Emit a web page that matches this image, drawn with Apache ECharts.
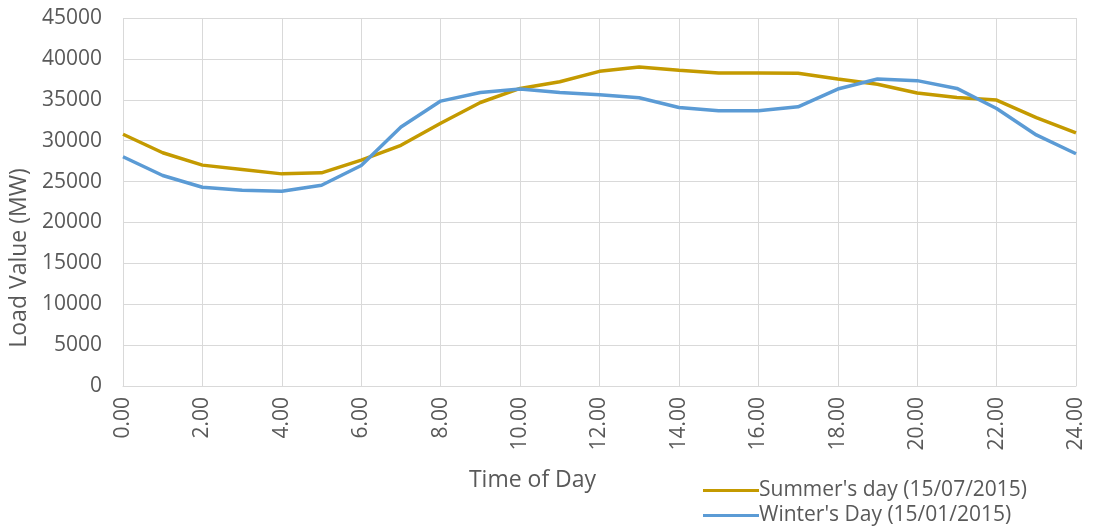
<!DOCTYPE html>
<html>
<head>
<meta charset="utf-8">
<script src="https://cdn.jsdelivr.net/npm/echarts@6/dist/echarts.min.js"></script>
<style>
  html, body { margin: 0; padding: 0; background: #fff; }
  #chart { width: 1093px; height: 529px; }
</style>
</head>
<body>
<div id="chart"></div>
<script>
// hour of day, 0..24
const hours = [0, 1, 2, 3, 4, 5, 6, 7, 8, 9, 10, 11, 12, 13, 14, 15, 16, 17, 18, 19, 20, 21, 22, 23, 24];
const summerLoad = [30780, 28520, 27010, 26480, 25940, 26070, 27620, 29430, 32130, 34670, 36390, 37210, 38480,
  39020, 38600, 38280, 38280, 38240, 37540, 36890, 35820, 35290, 34960, 32830, 30940];
const winterLoad = [28030, 25740, 24300, 23930, 23810, 24550, 26970, 31680, 34840, 35900, 36310, 35900, 35610,
  35250, 34060, 33650, 33650, 34140, 36310, 37540, 37340, 36390, 33930, 30700, 28400];
const seriesNames = ["Summer's day (15/07/2015)", "Winter's Day (15/01/2015)"];

const font = "Open Sans";
const textColor = "#595959";
const gridColor = "#d9d9d9";

function pairs(values) {
  return hours.map((h, i) => [h, values[i]]);
}

const chart = echarts.init(document.getElementById("chart"));
chart.setOption({
  animation: false,
  color: ["#C49A00", "#5B9BD5"],
  textStyle: { fontFamily: font, color: textColor },
  grid: { left: 123, right: 17, top: 18, bottom: 143 },
  xAxis: {
    type: "value",
    min: 0,
    max: 24,
    interval: 2,
    name: "Time of Day",
    nameLocation: "middle",
    nameGap: 83,
    // title sits left of the plot centre, like the original
    nameTextStyle: { fontFamily: font, fontSize: 23, color: textColor, padding: [0, 134, 0, 0] },
    axisLine: { show: true, lineStyle: { color: gridColor, width: 1 } },
    axisTick: { show: false },
    axisLabel: {
      rotate: 90,
      margin: 11,
      fontFamily: font,
      fontSize: 21,
      color: textColor,
      formatter: v => v.toFixed(2)
    },
    splitLine: { show: true, lineStyle: { color: gridColor, width: 1 } }
  },
  yAxis: {
    type: "value",
    min: 0,
    max: 45000,
    interval: 5000,
    name: "Load Value (MW)",
    nameLocation: "middle",
    nameGap: 83,
    nameRotate: 90,
    // shifted down to sit lower than the plot centre
    nameTextStyle: { fontFamily: font, fontSize: 23, color: textColor, padding: [0, 112, 0, 0] },
    axisLine: { show: false },
    axisTick: { show: false },
    axisLabel: { margin: 21, fontFamily: font, fontSize: 21, color: textColor, formatter: v => String(v) },
    splitLine: { show: true, lineStyle: { color: gridColor, width: 1 } }
  },
  legend: {
    orient: "vertical",
    left: 703,
    top: 480,
    padding: 0,
    itemWidth: 56,
    itemHeight: 3,
    itemGap: 4,
    icon: "rect",
    textStyle: { fontFamily: font, fontSize: 21, color: textColor, padding: [0, 0, 0, -5] },
    data: seriesNames
  },
  series: [
    {
      name: seriesNames[0],
      type: "line",
      data: pairs(summerLoad),
      showSymbol: false,
      symbol: "none",
      lineStyle: { width: 3.5 }
    },
    {
      name: seriesNames[1],
      type: "line",
      data: pairs(winterLoad),
      showSymbol: false,
      symbol: "none",
      lineStyle: { width: 3.5 }
    }
  ]
});
</script>
</body>
</html>
